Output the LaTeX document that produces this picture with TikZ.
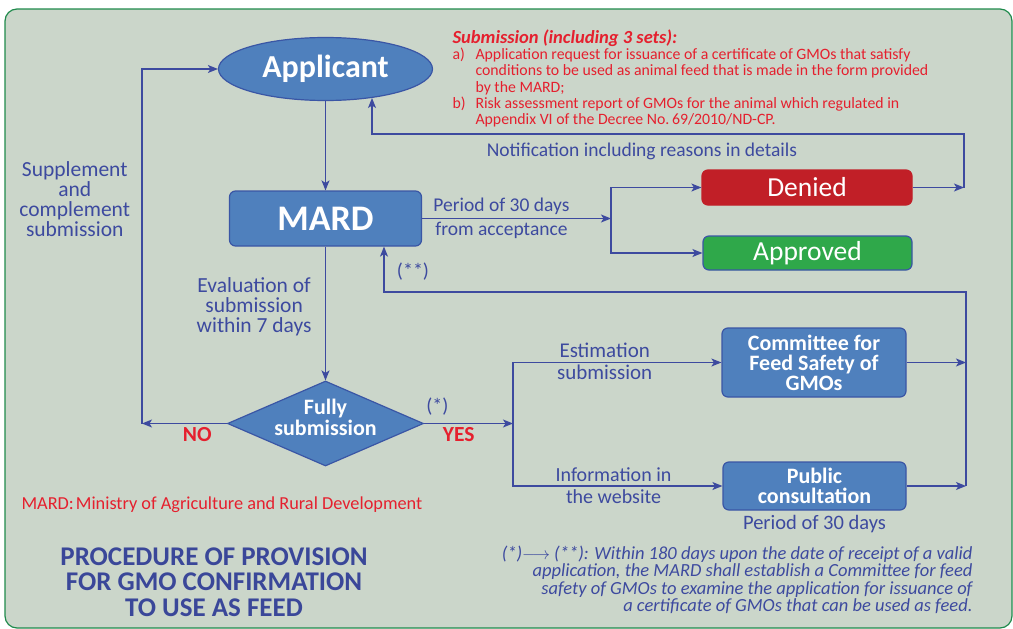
\documentclass[tikz,border=0pt]{standalone}
\usepackage{fontspec}
\setmainfont{Carlito}
\usepackage{tikz}
\usetikzlibrary{arrows.meta}
\usetikzlibrary{positioning}
\usetikzlibrary{shapes.geometric}
\definecolor{bgcol}{RGB}{203,214,202}
\definecolor{framegreen}{RGB}{31,138,76}
\definecolor{lineblue}{RGB}{61,74,159}
\definecolor{boxfill}{RGB}{79,128,189}
\definecolor{boxline}{RGB}{58,86,165}
\definecolor{notered}{RGB}{229,32,46}
\definecolor{deniedred}{RGB}{193,31,39}
\definecolor{approvedgreen}{RGB}{47,168,74}
\definecolor{titleblue}{RGB}{58,71,153}
\tikzset{flow/.style = {draw=lineblue, line width=1.3pt, -{Stealth[length=10pt,width=8pt,inset=2.5pt]}}}
\tikzset{box/.style = {rectangle, rounded corners=6pt, draw=boxline, line width=1.2pt, fill=boxfill, text=white, align=center, inner sep=0pt}}
\tikzset{boxtext/.style = {font=\bfseries\fontsize{22}{20}\selectfont}}
\tikzset{lbl/.style = {text=lineblue, align=center, font=\fontsize{20}{19}\selectfont}}
\tikzset{biglbl/.style = {text=lineblue, align=center, font=\fontsize{21.5}{20}\selectfont}}
\tikzset{yesno/.style = {text=notered, font=\bfseries\fontsize{21.5}{21}\selectfont}}

\begin{document}
\begin{tikzpicture}[x=1pt, y=-1pt]
    \useasboundingbox (0,0) rectangle (1013,629);
    \draw [draw=framegreen, fill=bgcol, line width=1.2pt, rounded corners=12pt] (5,9) rectangle (1012,628);

    \node [ellipse, draw=boxline, line width=1.2pt, fill=boxfill, text=white, minimum width=214pt, minimum height=63pt, font=\bfseries\fontsize{32}{32}\selectfont] (app) at (325.5,69) {Applicant};
    \node [box, minimum width=192pt, minimum height=55pt, font=\bfseries\fontsize{36}{36}\selectfont] (mard) at (325.5,218.5) {MARD};
    \node [diamond, aspect=2.3, inner sep=0pt, draw=boxline, line width=1.2pt, fill=boxfill, minimum width=196pt, minimum height=85pt, label={[text=white, align=center, yshift=6pt, font=\bfseries\fontsize{22}{21}\selectfont]center:{Fully\\submission}}] (fully) at (325.5,423.5) {};
    \node [box, draw=deniedred, fill=deniedred, minimum width=210pt, minimum height=35pt, font=\fontsize{27.5}{27.5}\selectfont] (denied) at (807,187.5) {Denied};
    \node [box, fill=approvedgreen, minimum width=209pt, minimum height=34pt, font=\fontsize{27.5}{27.5}\selectfont] (approved) at (807.5,253) {Approved};
    \node [box, boxtext, minimum width=184pt, minimum height=69pt] (committee) at (814,362.5) {Committee for\\Feed Safety of\\GMOs};
    \node [box, boxtext, minimum width=183pt, minimum height=48pt] (public) at (814.5,486) {Public\\consultation};
    \node [lbl, below=1pt of public, font=\fontsize{20.5}{20}\selectfont] (pubtime) {Period of 30 days};

    \coordinate (split1) at (611,218.5);
    \coordinate (split2) at (513,423.5);
    \coordinate (noend) at (142,423.5);
    \coordinate (dn) at (964,187.5);
    \coordinate (ntop) at (964,134);
    \coordinate (appin) at (372,98);
    \coordinate (rc) at (966,362.5);
    \coordinate (rp) at (966,486);
    \coordinate (rtop) at (966,292);

    \draw [flow] (app) -- (mard);
    \draw [flow] (mard) -- node [lbl, above, pos=0.42, font=\fontsize{19.5}{19}\selectfont] {Period of 30 days} node [lbl, below, pos=0.42, font=\fontsize{19.5}{19}\selectfont] {from acceptance} (split1);
    \draw [flow] (split1) |- (denied);
    \draw [flow] (split1) |- (approved);
    \draw [flow] (denied) -- (dn);
    \draw [flow] (dn) -- (ntop) -| node [lbl, pos=0.272, below=5pt, font=\fontsize{19.5}{19}\selectfont] {Notification including reasons in details} (appin);
    \draw [flow] (mard) -- node [biglbl, left=10pt, pos=0.45] {Evaluation of\\submission\\within 7 days} (fully);
    \draw [flow] (fully) -- node [yesno, below, pos=0.35] {NO} (noend);
    \draw [flow] (noend) |- node [biglbl, left=8pt, pos=0.316] {Supplement\\and\\complement\\submission} (app);
    \draw [flow] (fully) -- node [lbl, above=4pt, pos=0.15] {(*)} node [yesno, below, pos=0.39] {YES} (split2);
    \draw [flow] (split2) |- node [lbl, pos=0.72, above=1pt, font=\fontsize{21}{20}\selectfont] {Estimation} node [lbl, pos=0.72, below=-2pt, font=\fontsize{21}{20}\selectfont] {submission} (committee);
    \draw [flow] (split2) |- node [lbl, pos=0.74, above] {Information in} node [lbl, pos=0.74, below] {the website} (public);
    \draw [flow] (committee) -- (rc);
    \draw [flow] (public) -- (rp);
    \draw [flow] (rp) -- (rtop) -| node [lbl, pos=0.72, right=9pt] {(**)} ([xshift=58.5pt]mard.south);

    \node [anchor=north west, text=notered, align=left, font=\fontsize{15.8}{16.3}\selectfont] (submission) at (449,26) {{\bfseries\itshape\fontsize{18.5}{16.3}\selectfont Submission (including 3 sets):}\\
        \makebox[23pt][l]{a)}Application request for issuance of a certificate of GMOs that satisfy\\
        \hspace*{23pt}conditions to be used as animal feed that is made in the form provided\\
        \hspace*{23pt}by the MARD;\\
        \makebox[23pt][l]{b)}Risk assessment report of GMOs for the animal which regulated in\\
        \hspace*{23pt}Appendix VI of the Decree No.\,69/2010/ND-CP.};
    \node [anchor=west, text=notered, font=\fontsize{18.3}{18}\selectfont] (marddef) at (18,505) {MARD:\hspace{2pt}Ministry of Agriculture and Rural Development};
    \node [text=titleblue, align=center, font=\bfseries\fontsize{27}{25.3}\selectfont] (title) at (214,582) {PROCEDURE OF PROVISION\\FOR GMO CONFIRMATION\\TO USE AS FEED};
    \node [anchor=east, text=lineblue, align=right, font=\itshape\fontsize{18.5}{17.5}\selectfont] (footnote) at (976,580) {(*)$\longrightarrow$ (**): Within 180 days upon the date of receipt of a valid\\application, the MARD shall establish a Committee for feed\\safety of GMOs to examine the application for issuance of\\a certificate of GMOs that can be used as feed.};
\end{tikzpicture}
\end{document}
